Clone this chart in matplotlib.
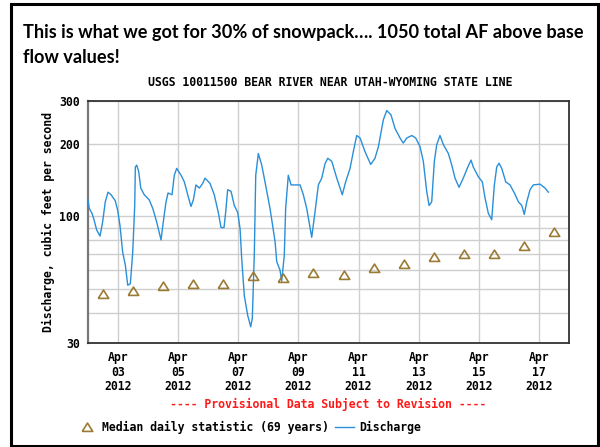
import numpy as np
import matplotlib
matplotlib.use("Agg")
import matplotlib.pyplot as plt
import matplotlib.dates as mdates
from matplotlib.patches import Rectangle
from matplotlib.ticker import FixedLocator, FixedFormatter, NullFormatter

# Discharge (cfs), hours after 2012-04-02 00:00
q_hours = [0, 1.0, 3.2, 4.8, 6.9, 9.6, 11.7, 13.8, 16.0, 18.4, 21.8, 23.7,
           25.5, 27.7, 29.8, 31.7, 33.8, 35.7, 37.3, 37.8, 38.9, 40.5, 42.1,
           44.9, 48.9, 51.7, 54.8, 58.3, 60.1, 62.3, 63.9, 67.1, 68.9, 70.8,
           74.3, 76.9, 79.6, 82.2, 84.1, 86.2, 88.9, 91.6, 93.4, 97.4, 100.8,
           104.0, 106.2, 108.6, 109.9, 111.5, 114.2, 116.8, 119.5, 121.4,
           122.7, 124.8, 127.5, 129.9, 131.2, 132.8, 133.9, 136.0, 138.7,
           141.3, 145.3, 149.3, 150.7, 153.3, 154.6, 156.7, 157.8, 159.9,
           162.1, 166.6, 169.3, 171.9, 174.6, 178.6, 181.2, 183.9, 186.6,
           189.2, 191.4, 194.6, 198.6, 203.0, 205.7, 209.2, 211.8, 214.5,
           217.2, 221.2, 225.7, 229.1, 231.8, 235.8, 238.5, 241.9, 245.1,
           249.1, 251.7, 254.5, 258.5, 261.6, 265.1, 267.7, 270.4, 272.3,
           274.4, 276.5, 278.4, 281.0, 283.7, 287.7, 290.4, 293.0, 296.2,
           299.6, 303.2, 305.8, 307.6, 311.6, 314.8, 317.0, 319.6, 322.3,
           324.4, 326.3, 328.1, 330.3, 333.5, 336.9, 340.4, 343.6, 346.3,
           348.3, 350.3, 352.9, 355.5, 360.9, 364.9, 367.5]
q_values = [117, 108, 103, 97, 88, 83, 95, 115, 126, 123, 116, 106,
            92, 71, 63, 52, 52.7, 71, 111, 160, 163, 153, 131,
            123, 117, 108, 95, 80, 95, 115, 125, 123, 148, 158,
            148, 139, 123, 110, 117, 135, 131, 137, 144, 137, 123,
            104, 90, 90, 104, 129, 127, 111, 104, 89,
            67, 47, 39, 35, 38, 71, 148, 182, 163,
            139, 108, 79, 65, 60, 54, 69, 108, 148,
            135, 135, 135, 123, 108, 82, 104, 135, 144,
            165, 174, 169, 144, 123, 139, 158, 185, 216,
            211, 185, 164, 174, 194, 251, 274, 263, 231,
            211, 201, 211, 216, 211, 194, 169, 127, 111,
            115, 169, 198, 216, 198, 182, 163, 144, 132,
            144, 160, 171, 160, 146, 139, 119, 103, 97,
            135, 160, 166, 158, 139, 135, 125, 115, 111,
            102, 115, 129, 135, 136, 131, 126]

# Median daily statistic (69 years), one per day at noon, Apr 02 - Apr 17
median_days = ["2012-04-%02dT12:00" % d for d in range(2, 18)]
median_values = [47.6, 49.2, 51.6, 52.6, 52.5, 56.6, 55.8, 58.4, 57.1, 61.0,
                 63.7, 67.7, 70.3, 69.8, 75.5, 86.3]

y_ticks = [30, 100, 200, 300]
y_minor = [40, 50, 60, 70, 80, 90]

start = np.datetime64("2012-04-02T00:00")
q_times = start + (np.array(q_hours) * 60).astype("timedelta64[m]")
m_times = np.array(median_days, dtype="datetime64[m]")

mono = "DejaVu Sans Mono"
fs = 8.3
W, H = 600, 447

fig = plt.figure(figsize=(6.0, 4.47), dpi=100)
ax = fig.add_axes([88 / W, 1 - 343 / H, 481 / W, 242 / H])

ax.plot(q_times, q_values, color="#2a8fd9", lw=1.0, label="Discharge", zorder=3)
tri = [(-1, -0.75), (1, -0.75), (0, 0.85), (-1, -0.75)]
ax.plot(m_times, median_values, ls="none", marker=tri, ms=7.5,
        mfc="none", mec="#9b7a34", mew=1.2,
        label="Median daily statistic (69 years)", zorder=4)

ax.set_yscale("log")
ax.set_ylim(30, 300)
ax.yaxis.set_major_locator(FixedLocator(y_ticks))
ax.yaxis.set_major_formatter(FixedFormatter([str(t) for t in y_ticks]))
ax.yaxis.set_minor_locator(FixedLocator(y_minor))
ax.yaxis.set_minor_formatter(NullFormatter())

ax.set_xlim(np.datetime64("2012-04-02T00:00"), np.datetime64("2012-04-18T00:00"))
ax.xaxis.set_major_locator(mdates.DayLocator(bymonthday=range(3, 18, 2)))
ax.xaxis.set_major_formatter(mdates.DateFormatter("%b\n%d\n%Y"))

ax.grid(True, which="both", color="#cfcfcf", lw=1.0, zorder=0)
ax.tick_params(which="both", length=0, labelsize=fs)
ax.tick_params(axis="y", pad=6)
ax.tick_params(axis="x", pad=6)
for lab in ax.get_xticklabels() + ax.get_yticklabels():
    lab.set_fontfamily(mono)
    lab.set_fontweight("bold")
for lab in ax.get_xticklabels():
    lab.set_linespacing(1.15)

for side in ["top", "right", "bottom"]:
    ax.spines[side].set_color("#333333")
    ax.spines[side].set_linewidth(1.3)
ax.spines["left"].set_color("#777777")
ax.spines["left"].set_linewidth(1.6)

ax.set_ylabel("Discharge, cubic feet per second", family=mono,
              fontweight="bold", fontsize=fs)
ax.yaxis.set_label_coords(-0.069, 0.5)

fig.text(330 / W, 1 - 82 / H, "USGS 10011500 BEAR RIVER NEAR UTAH-WYOMING STATE LINE",
         ha="center", va="center", family=mono, fontweight="bold", fontsize=fs)

# slide title, two lines; size fitted so line 1 spans x=23..584 px
t1 = fig.text(23 / W, 1 - 38 / H,
              "This is what we got for 30% of snowpack\u2026. 1050 total AF above base",
              ha="left", va="baseline", family="Lato", fontweight="bold", fontsize=13)
t2 = fig.text(23 / W, 1 - 63 / H, "flow values!",
              ha="left", va="baseline", family="Lato", fontweight="bold", fontsize=13)
renderer = fig.canvas.get_renderer()
width_px = t1.get_window_extent(renderer).width
new_size = 13 * 561 / width_px
t1.set_fontsize(new_size)
t2.set_fontsize(new_size)

fig.text(328 / W, 1 - 404 / H, "---- Provisional Data Subject to Revision ----",
         ha="center", va="center", family=mono, fontweight="bold",
         fontsize=fs, color="#ff1a1a")

handles, labels = ax.get_legend_handles_labels()
leg = fig.legend(handles[::-1], labels[::-1], loc="center left",
                 bbox_to_anchor=(67 / W, 1 - 427 / H), ncol=2, frameon=False,
                 handlelength=1.6, handletextpad=0.5, columnspacing=0.6,
                 prop={"family": mono, "weight": "bold", "size": fs})

fig.patches.append(Rectangle((11 / W, 1.5 / H), 587 / W, 442 / H,
                             transform=fig.transFigure, fill=False,
                             edgecolor="black", lw=2.2))

fig.savefig("out.png", dpi=100, facecolor="white")
